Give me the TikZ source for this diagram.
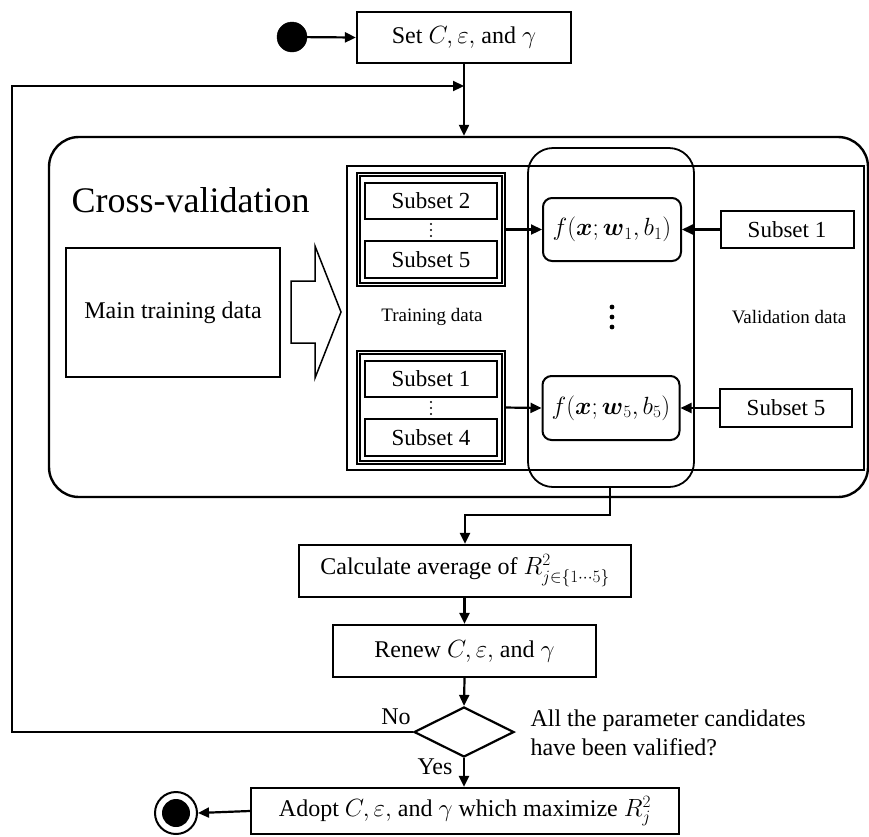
\documentclass[tikz,border=0pt]{standalone}
\usepackage{amsmath}
\usepackage{fontspec}
\setmainfont{Liberation Serif}
\newfontfamily\tnr{Liberation Serif}
\usetikzlibrary{arrows.meta,shapes.geometric}
\begin{document}
\begin{tikzpicture}[x=1pt,y=-1pt,
  txt/.style={font=\tnr\fontsize{24}{29}\selectfont},
  box/.style={draw,line width=2.2pt,rectangle,inner sep=0pt,txt},
  sbox/.style={draw,line width=2pt,rectangle,inner sep=0pt,font=\tnr\fontsize{23}{28}\selectfont,minimum width=132pt},
  dbl/.style={draw,double,line width=1.3pt,double distance=1.7pt,rectangle,inner sep=0pt,minimum width=145pt,minimum height=110pt},
  fbox/.style={draw,line width=2pt,rounded corners=9pt,inner sep=0pt,txt},
  arr/.style={line width=2.2pt,-{Triangle[length=11pt,width=10pt]}},
  small/.style={font=\tnr\fontsize{19}{23}\selectfont}]
\useasboundingbox (0,0) rectangle (869,836);

% containers
\node[draw,line width=2.4pt,rounded corners=30pt,minimum width=819pt,minimum height=360pt,inner sep=0pt] (cvbox) at (458.5,317) {};
\node[draw,line width=1.2pt,minimum width=517pt,minimum height=304pt,inner sep=0pt] (inbox) at (605.5,318) {};
\node[draw,line width=1.8pt,rounded corners=25pt,minimum width=166pt,minimum height=339pt,inner sep=0pt] (vround) at (611,317.5) {};
\node[anchor=base west,font=\tnr\fontsize{36}{40}\selectfont] (cvlabel) at (68,212) {Cross-validation};

% main training data and block arrow
\node[draw,line width=1.6pt,minimum width=214pt,minimum height=129pt,inner sep=0pt,txt] (mtd) at (173,312.5) {Main training data};
\draw[line width=1.5pt,fill=white] (291,281) -- (315,281) -- (315,246) -- (341,312) -- (315,378) -- (315,343) -- (291,343) -- cycle;

% training subsets
\node[dbl] (d1) at (431,229.5) {};
\node[sbox,minimum height=36pt] (s2) at (431,201) {Subset 2};
\node[sbox,minimum height=37pt] (s5) at (431,259.5) {Subset 5};
\node[dbl] (d5) at (431,407.5) {};
\node[sbox,minimum height=36pt] (s1b) at (431,379) {Subset 1};
\node[sbox,minimum height=37pt] (s4) at (431,437.5) {Subset 4};
\foreach \yy in {224,230,236} \fill (431,\yy) circle (1.1pt);
\foreach \yy in {402,408,414} \fill (431,\yy) circle (1.1pt);

\node[small] (trl) at (432,317) {Training data};
\node[small] (vall) at (789,317) {Validation data};
\foreach \yy in {307,317,327} \fill (612,\yy) circle (2.4pt);

% models
\node[fbox,minimum width=138pt,minimum height=63pt] (f1) at (612,229.5) {$f(\boldsymbol{x};\boldsymbol{w}_1,b_1)$};
\node[fbox,minimum width=137pt,minimum height=64pt] (f5) at (611,408) {$f(\boldsymbol{x};\boldsymbol{w}_5,b_5)$};

% validation subsets
\node[sbox,minimum width=133pt,minimum height=37pt] (v1) at (787,229.5) {Subset 1};
\node[sbox,minimum height=38pt] (v5) at (786,408) {Subset 5};

\draw[arr] (d1.east) -- (f1.west);
\draw[arr] (d5.east) -- (f5.west);
\draw[arr] (v1.west) -- (f1.east);
\draw[arr] (v5.west) -- (f5.east);

% main flow
\node[draw,fill,circle,minimum size=30pt,inner sep=0pt] (start) at (292,37) {};
\node[box,minimum width=214pt,minimum height=51pt] (setb) at (464,37.5) {Set $C,\varepsilon,$ and $\gamma$};
\node[box,minimum width=332pt,minimum height=52pt] (calc) at (465,571) {Calculate average of $R^2_{j\in\{1\cdots5\}}$};
\node[box,minimum width=263pt,minimum height=52pt] (renew) at (464.5,651) {Renew $C,\varepsilon,$ and $\gamma$};
\node[draw,line width=2.2pt,diamond,aspect=2,minimum width=100pt,minimum height=50pt,inner sep=0pt] (dia) at (464,732) {};
\node[box,minimum width=428pt,minimum height=46pt] (adopt) at (465,811) {Adopt $C,\varepsilon,$ and $\gamma$ which maximize $R^2_j$};
\node[draw,line width=2pt,circle,minimum size=42pt,inner sep=0pt] (endc) at (176,813) {};
\fill (endc.center) circle (14pt);

\node[txt] (nol) at (396,717) {No};
\node[txt] (yesl) at (435,767) {Yes};
\node[txt,anchor=west,align=left] (q) at (527,732.5) {All the parameter candidates\\have been valified?};

\coordinate (top) at (464,86);
\coordinate (lc1) at (12,732);
\coordinate (lc2) at (12,86);
\coordinate (m1) at (610,515);
\coordinate (m2) at (465,515);

\draw[arr] (start) -- (setb.west);
\draw[arr] (setb.south) -- (setb.south |- cvbox.north);
\draw[arr] (dia.west) -- (lc1) -- (lc2) -- (top);
\draw[arr] (vround.south -| m1) -- (m1) -- (m2) -- (calc.north);
\draw[arr] (calc.south -| renew.north) -- (renew.north);
\draw[arr] (renew.south) -- (dia.north);
\draw[arr] (dia.south) -- (adopt.north -| dia.south);
\draw[arr] (adopt.west) -- (endc.east);
\end{tikzpicture}
\end{document}
